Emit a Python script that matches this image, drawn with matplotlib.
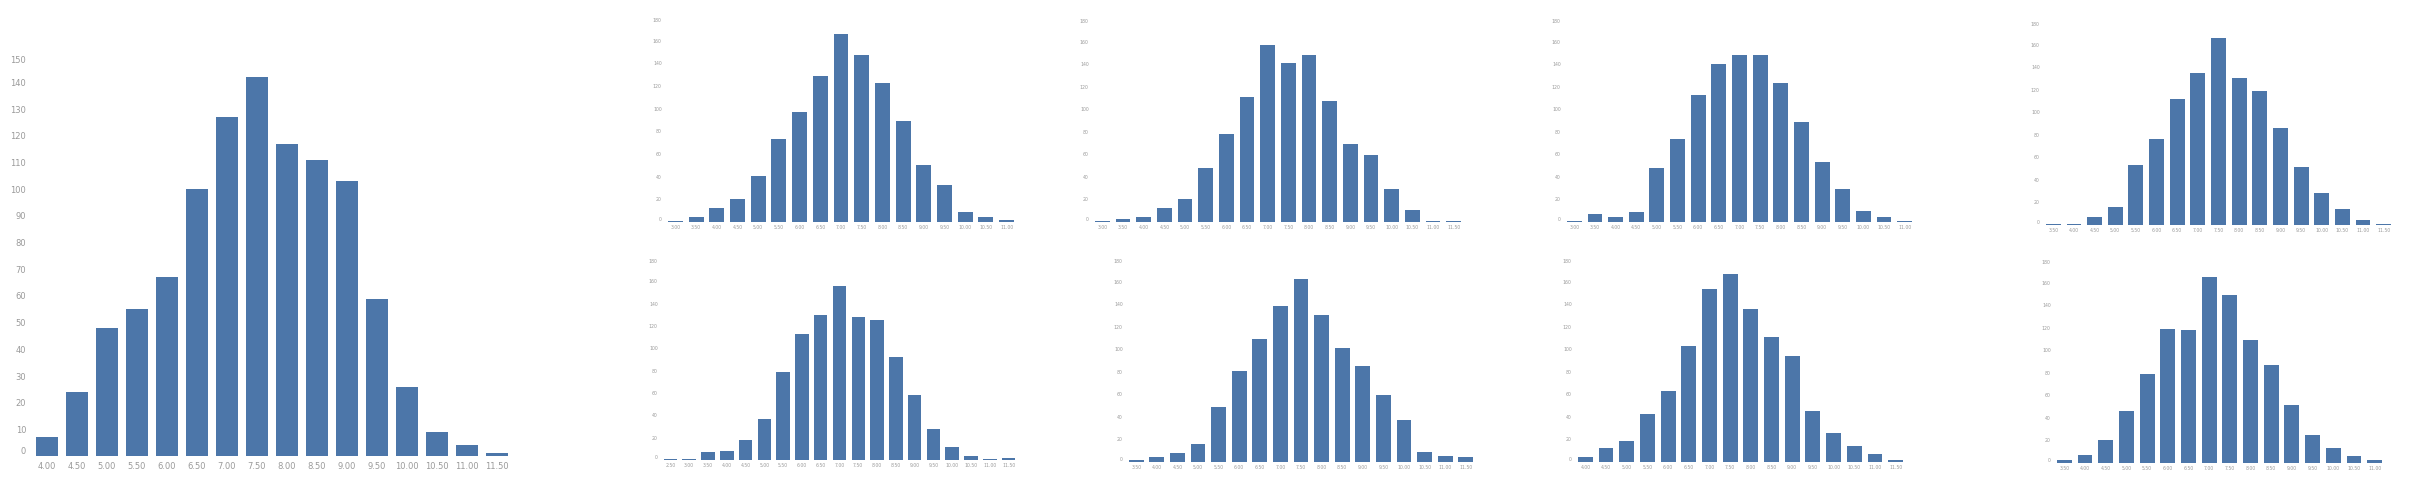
import matplotlib
matplotlib.use('Agg')
import matplotlib.pyplot as plt

W, H = 2410, 491
BAR = '#4c76a9'
TXT = '#9a9a9a'

# big chart (0..150)
big_labels = ['4.00', '4.50', '5.00', '5.50', '6.00', '6.50', '7.00', '7.50',
              '8.00', '8.50', '9.00', '9.50', '10.00', '10.50', '11.00', '11.50']
big_counts = [7, 24, 48, 55, 67, 100, 127, 142, 117, 111, 103, 59, 26, 9, 4, 1]
big_yticks = list(range(0, 151, 10))

# small charts (0..180)
s1_labels = ['3.00', '3.50', '4.00', '4.50', '5.00', '5.50', '6.00', '6.50', '7.00',
             '7.50', '8.00', '8.50', '9.00', '9.50', '10.00', '10.50', '11.00']
s1_counts = [1, 4, 12, 20, 41, 73, 97, 129, 166, 147, 123, 89, 50, 33, 9, 4, 2]

s2_labels = ['2.50', '3.00', '3.50', '4.00', '4.50', '5.00', '5.50', '6.00', '6.50', '7.00',
             '7.50', '8.00', '8.50', '9.00', '9.50', '10.00', '10.50', '11.00', '11.50']
s2_counts = [1, 1, 7, 8, 18, 37, 79, 113, 130, 156, 128, 125, 92, 58, 28, 12, 4, 1, 2]

s3_labels = ['3.00', '3.50', '4.00', '4.50', '5.00', '5.50', '6.00', '6.50', '7.00',
             '7.50', '8.00', '8.50', '9.00', '9.50', '10.00', '10.50', '11.00', '11.50']
s3_counts = [1, 3, 4, 12, 20, 48, 78, 111, 157, 141, 148, 107, 69, 59, 29, 11, 1, 1]

s4_labels = ['3.50', '4.00', '4.50', '5.00', '5.50', '6.00', '6.50', '7.00', '7.50',
             '8.00', '8.50', '9.00', '9.50', '10.00', '10.50', '11.00', '11.50']
s4_counts = [2, 4, 8, 16, 49, 81, 109, 138, 162, 130, 101, 85, 59, 37, 9, 5, 4]

s5_labels = ['3.00', '3.50', '4.00', '4.50', '5.00', '5.50', '6.00', '6.50', '7.00',
             '7.50', '8.00', '8.50', '9.00', '9.50', '10.00', '10.50', '11.00']
s5_counts = [1, 7, 4, 9, 48, 74, 113, 140, 148, 148, 123, 89, 53, 29, 10, 4, 1]

s6_labels = ['4.00', '4.50', '5.00', '5.50', '6.00', '6.50', '7.00', '7.50',
             '8.00', '8.50', '9.00', '9.50', '10.00', '10.50', '11.00', '11.50']
s6_counts = [4, 12, 19, 43, 63, 103, 153, 167, 136, 111, 94, 45, 26, 14, 7, 2]

s7_labels = ['3.50', '4.00', '4.50', '5.00', '5.50', '6.00', '6.50', '7.00', '7.50',
             '8.00', '8.50', '9.00', '9.50', '10.00', '10.50', '11.00', '11.50']
s7_counts = [1, 1, 7, 16, 53, 76, 112, 135, 166, 130, 119, 86, 51, 28, 14, 4, 1]

s8_labels = ['3.50', '4.00', '4.50', '5.00', '5.50', '6.00', '6.50', '7.00',
             '7.50', '8.00', '8.50', '9.00', '9.50', '10.00', '10.50', '11.00']
s8_counts = [3, 7, 20, 46, 79, 119, 118, 165, 149, 109, 87, 51, 25, 13, 6, 3]

small_yticks = list(range(0, 181, 20))

fig = plt.figure(figsize=(W / 100, H / 100), dpi=100)
fig.patch.set_facecolor('white')


def add_chart(px, labels, counts, yticks, fs):
    # px = (left, right, baseline, top) in pixels
    l, r, base, top = px
    ax = fig.add_axes([l / W, (H - base) / H, (r - l) / W, (base - top) / H])
    x = range(len(counts))
    ax.bar(x, counts, width=0.72, color=BAR, edgecolor='none')
    ax.set_xlim(-0.5, len(counts) - 0.5)
    ax.set_ylim(yticks[0], yticks[-1])
    ax.set_xticks(list(x))
    ax.set_xticklabels(labels)
    ax.set_yticks(yticks)
    ax.set_yticklabels([str(v) for v in yticks])
    for s in ax.spines.values():
        s.set_visible(False)
    ax.tick_params(length=0, labelsize=fs, colors=TXT, pad=fs * 0.7)
    yl = ax.get_yticklabels()
    yl[0].set_va('bottom')
    yl[-1].set_va('top')
    ax.set_facecolor('none')
    return ax


add_chart((32, 512, 456, 56), big_labels, big_counts, big_yticks, 6)

add_chart((665, 1017, 222, 18), s1_labels, s1_counts, small_yticks, 3.3)
add_chart((661, 1018, 460, 259), s2_labels, s2_counts, small_yticks, 3.3)
add_chart((1092, 1464, 222, 19), s3_labels, s3_counts, small_yticks, 3.3)
add_chart((1126, 1476, 462, 259), s4_labels, s4_counts, small_yticks, 3.3)
add_chart((1564, 1915, 222, 19), s5_labels, s5_counts, small_yticks, 3.3)
add_chart((1575, 1906, 462, 259), s6_labels, s6_counts, small_yticks, 3.3)
add_chart((2043, 2394, 225, 22), s7_labels, s7_counts, small_yticks, 3.3)
add_chart((2054, 2385, 463, 260), s8_labels, s8_counts, small_yticks, 3.3)

fig.savefig('out.png', dpi=100, facecolor='white')
